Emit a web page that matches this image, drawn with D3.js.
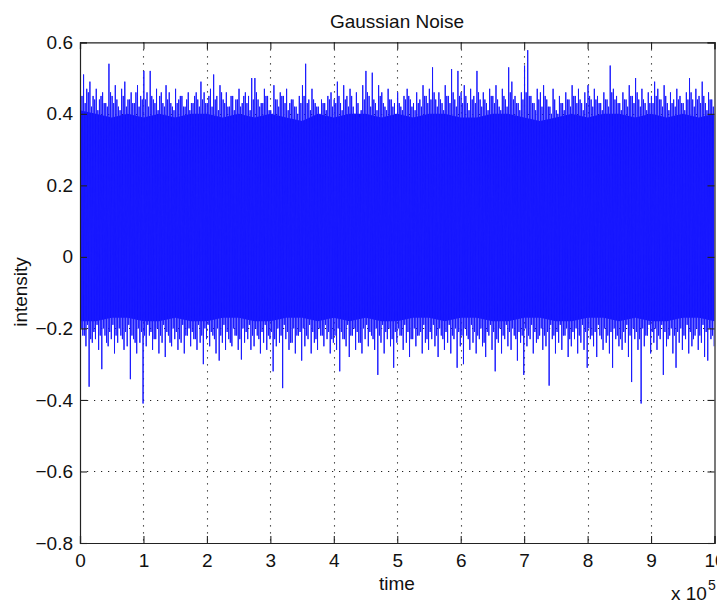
<!DOCTYPE html>
<html><head><meta charset="utf-8">
<script src="https://cdn.jsdelivr.net/npm/d3@7"></script>
<style>
html,body{margin:0;padding:0;background:#fff;}
svg{display:block;}
text{font-family:"Liberation Sans",Arial,Helvetica,sans-serif;fill:#111;}
</style></head><body>
<svg id="chart" width="717" height="603"></svg>
<script>
// ---- data ----
const titleText = "Gaussian Noise";
const xLabelText = "time";
const yLabelText = "intensity";
const xTicks = [0,1,2,3,4,5,6,7,8,9,10];          // ×10^5
const yTicks = [-0.8,-0.6,-0.4,-0.2,0,0.2,0.4,0.6];
const xDomain = [0,10];
const yDomain = [-0.8,0.6];

// tall upper spike tips (200 samples, evenly spaced in time)
const peaks = [
0.50,0.51,0.47,0.49,0.45,0.47,0.44,0.46,0.43,0.54,
0.45,0.48,0.42,0.47,0.49,0.44,0.46,0.43,0.48,0.45,
0.52,0.46,0.52,0.44,0.47,0.45,0.43,0.48,0.46,0.42,
0.47,0.44,0.45,0.42,0.46,0.43,0.45,0.44,0.49,0.46,
0.43,0.47,0.51,0.45,0.48,0.44,0.46,0.42,0.45,0.44,
0.47,0.43,0.46,0.45,0.50,0.50,0.44,0.43,0.47,0.45,
0.41,0.48,0.44,0.46,0.45,0.47,0.43,0.44,0.42,0.45,
0.48,0.54,0.44,0.47,0.43,0.42,0.44,0.43,0.45,0.46,
0.44,0.49,0.43,0.48,0.45,0.47,0.42,0.46,0.39,0.48,
0.52,0.45,0.515,0.43,0.48,0.46,0.42,0.47,0.44,0.43,
0.46,0.42,0.45,0.47,0.44,0.43,0.46,0.44,0.48,0.45,
0.47,0.53,0.44,0.46,0.43,0.48,0.45,0.525,0.44,0.52,
0.46,0.48,0.43,0.47,0.45,0.52,0.44,0.46,0.43,0.47,
0.45,0.48,0.42,0.47,0.44,0.53,0.49,0.45,0.43,0.46,
0.535,0.578,0.45,0.43,0.47,0.46,0.48,0.44,0.42,0.47,
0.41,0.45,0.43,0.46,0.44,0.48,0.45,0.47,0.43,0.46,
0.48,0.44,0.47,0.45,0.43,0.46,0.44,0.535,0.47,0.45,
0.43,0.46,0.44,0.48,0.45,0.50,0.44,0.47,0.43,0.46,
0.45,0.49,0.47,0.44,0.48,0.43,0.46,0.44,0.47,0.45,
0.43,0.46,0.50,0.44,0.47,0.45,0.49,0.43,0.46,0.44
];
// deep lower spike tips (200 samples)
const troughs = [
-0.22,-0.25,-0.363,-0.24,-0.23,-0.26,-0.314,-0.22,-0.25,-0.23,
-0.27,-0.24,-0.22,-0.26,-0.25,-0.342,-0.23,-0.27,-0.24,-0.41,
-0.25,-0.22,-0.26,-0.23,-0.27,-0.24,-0.28,-0.22,-0.25,-0.23,
-0.26,-0.24,-0.27,-0.22,-0.25,-0.23,-0.26,-0.24,-0.30,-0.23,
-0.25,-0.22,-0.27,-0.29,-0.24,-0.26,-0.23,-0.25,-0.22,-0.26,
-0.287,-0.24,-0.23,-0.26,-0.25,-0.22,-0.27,-0.24,-0.26,-0.23,
-0.32,-0.25,-0.24,-0.367,-0.23,-0.26,-0.24,-0.27,-0.22,-0.29,
-0.25,-0.23,-0.27,-0.24,-0.26,-0.22,-0.25,-0.23,-0.27,-0.24,
-0.26,-0.32,-0.23,-0.25,-0.28,-0.22,-0.26,-0.24,-0.27,-0.23,
-0.25,-0.22,-0.26,-0.33,-0.24,-0.27,-0.23,-0.25,-0.31,-0.24,
-0.22,-0.26,-0.24,-0.28,-0.23,-0.25,-0.22,-0.27,-0.24,-0.26,
-0.23,-0.25,-0.28,-0.22,-0.26,-0.24,-0.27,-0.23,-0.31,-0.25,
-0.30,-0.22,-0.26,-0.24,-0.27,-0.23,-0.25,-0.28,-0.22,-0.26,
-0.32,-0.24,-0.27,-0.23,-0.25,-0.26,-0.22,-0.29,-0.24,-0.33,
-0.25,-0.23,-0.27,-0.24,-0.22,-0.26,-0.25,-0.36,-0.23,-0.27,
-0.24,-0.26,-0.22,-0.28,-0.25,-0.23,-0.27,-0.24,-0.26,-0.31,
-0.23,-0.25,-0.28,-0.22,-0.26,-0.24,-0.27,-0.31,-0.23,-0.25,
-0.26,-0.24,-0.28,-0.35,-0.23,-0.26,-0.41,-0.25,-0.22,-0.27,
-0.24,-0.26,-0.23,-0.33,-0.25,-0.22,-0.27,-0.31,-0.24,-0.26,
-0.23,-0.27,-0.25,-0.22,-0.26,-0.24,-0.28,-0.29,-0.23,-0.25
];
// shorter upper spikes between the tall ones (200 samples)
const innerPeaks = [
0.45,0.43,0.46,0.42,0.44,0.41,0.45,0.43,0.42,0.46,
0.43,0.44,0.41,0.45,0.42,0.44,0.43,0.46,0.42,0.44,
0.44,0.42,0.45,0.43,0.41,0.46,0.42,0.44,0.43,0.41,
0.43,0.45,0.42,0.44,0.41,0.43,0.46,0.42,0.44,0.43,
0.45,0.42,0.44,0.41,0.46,0.43,0.42,0.45,0.41,0.44,
0.42,0.45,0.43,0.41,0.44,0.46,0.42,0.43,0.45,0.41,
0.40,0.44,0.42,0.45,0.43,0.41,0.44,0.42,0.40,0.43,
0.45,0.43,0.41,0.44,0.42,0.40,0.43,0.41,0.44,0.42,
0.43,0.45,0.41,0.44,0.42,0.45,0.40,0.43,0.41,0.44,
0.46,0.42,0.44,0.41,0.45,0.43,0.41,0.44,0.42,0.40,
0.43,0.41,0.44,0.45,0.42,0.41,0.43,0.42,0.45,0.43,
0.44,0.46,0.42,0.44,0.41,0.45,0.43,0.46,0.42,0.45,
0.43,0.45,0.41,0.44,0.43,0.46,0.42,0.44,0.41,0.45,
0.43,0.44,0.41,0.45,0.42,0.46,0.44,0.43,0.41,0.44,
0.46,0.45,0.43,0.41,0.44,0.42,0.45,0.42,0.40,0.44,
0.40,0.43,0.41,0.44,0.42,0.45,0.43,0.44,0.41,0.43,
0.45,0.42,0.44,0.43,0.41,0.44,0.42,0.46,0.44,0.43,
0.41,0.44,0.42,0.45,0.43,0.46,0.42,0.44,0.41,0.43,
0.43,0.45,0.44,0.42,0.45,0.41,0.43,0.42,0.44,0.43,
0.41,0.44,0.46,0.42,0.44,0.43,0.45,0.41,0.44,0.42
];
// shorter lower spikes between the deep ones (200 samples)
const innerTroughs = [
-0.20,-0.22,-0.19,-0.23,-0.21,-0.19,-0.22,-0.20,-0.24,-0.21,
-0.19,-0.22,-0.20,-0.23,-0.21,-0.19,-0.22,-0.24,-0.20,-0.21,
-0.22,-0.19,-0.21,-0.23,-0.20,-0.22,-0.19,-0.21,-0.24,-0.20,
-0.21,-0.23,-0.19,-0.22,-0.20,-0.21,-0.23,-0.19,-0.22,-0.20,
-0.19,-0.21,-0.23,-0.20,-0.22,-0.19,-0.21,-0.24,-0.20,-0.22,
-0.23,-0.20,-0.21,-0.19,-0.22,-0.20,-0.23,-0.21,-0.19,-0.22,
-0.21,-0.23,-0.20,-0.22,-0.19,-0.21,-0.24,-0.20,-0.22,-0.21,
-0.20,-0.22,-0.19,-0.21,-0.23,-0.20,-0.22,-0.19,-0.21,-0.23,
-0.22,-0.20,-0.21,-0.23,-0.19,-0.22,-0.20,-0.21,-0.24,-0.20,
-0.19,-0.21,-0.23,-0.20,-0.22,-0.19,-0.21,-0.20,-0.23,-0.21,
-0.20,-0.22,-0.19,-0.21,-0.23,-0.20,-0.22,-0.21,-0.19,-0.23,
-0.21,-0.19,-0.22,-0.20,-0.23,-0.21,-0.19,-0.22,-0.20,-0.21,
-0.22,-0.20,-0.23,-0.19,-0.21,-0.22,-0.20,-0.24,-0.21,-0.19,
-0.21,-0.23,-0.20,-0.22,-0.19,-0.21,-0.20,-0.23,-0.21,-0.22,
-0.20,-0.22,-0.19,-0.21,-0.23,-0.20,-0.22,-0.21,-0.19,-0.22,
-0.21,-0.19,-0.22,-0.20,-0.23,-0.21,-0.20,-0.22,-0.19,-0.21,
-0.20,-0.22,-0.21,-0.19,-0.23,-0.20,-0.22,-0.21,-0.20,-0.22,
-0.23,-0.21,-0.19,-0.22,-0.20,-0.21,-0.23,-0.20,-0.22,-0.19,
-0.21,-0.20,-0.22,-0.19,-0.21,-0.23,-0.20,-0.22,-0.21,-0.20,
-0.22,-0.19,-0.21,-0.23,-0.20,-0.22,-0.19,-0.21,-0.20,-0.22
];
// solid core of the band (41 samples, every 0.25×10^5)
const coreTop = [0.41,0.40,0.39,0.40,0.39,0.40,0.39,0.40,0.40,0.39,0.40,0.39,0.40,0.39,0.38,0.40,0.39,0.40,0.40,0.39,0.40,0.39,0.40,0.40,0.39,0.39,0.40,0.40,0.39,0.38,0.39,0.40,0.39,0.40,0.40,0.39,0.40,0.39,0.40,0.39,0.40];
const coreBottom = [-0.18,-0.18,-0.17,-0.17,-0.18,-0.18,-0.17,-0.18,-0.18,-0.17,-0.17,-0.18,-0.18,-0.17,-0.17,-0.18,-0.17,-0.18,-0.17,-0.18,-0.18,-0.17,-0.17,-0.18,-0.17,-0.17,-0.18,-0.18,-0.17,-0.17,-0.18,-0.18,-0.17,-0.17,-0.18,-0.17,-0.18,-0.18,-0.17,-0.17,-0.18];

// ---- layout ----
const L = 80, R = 714.5, T = 42.3, B = 543;
const svg = d3.select("#chart");
const x = d3.scaleLinear().domain(xDomain).range([L, R]);
const y = d3.scaleLinear().domain(yDomain).range([B, T]);

svg.append("rect").attr("width",717).attr("height",603).attr("fill","#fff");
svg.append("rect").attr("x",L).attr("y",T).attr("width",R-L).attr("height",B-T).attr("fill","#fff");

svg.append("defs").append("clipPath").attr("id","clip")
  .append("rect").attr("x",L).attr("y",T).attr("width",R-L).attr("height",B-T);

// grid
const grid = svg.append("g").attr("stroke","#222").attr("stroke-width",1.1).attr("stroke-dasharray","1.2,5.8");
grid.selectAll("line.gx").data(xTicks.slice(1,-1)).join("line")
  .attr("x1",d=>Math.round(x(d))+0.5).attr("x2",d=>Math.round(x(d))+0.5).attr("y1",T).attr("y2",B);
grid.selectAll("line.gy").data(yTicks.slice(1,-1)).join("line")
  .attr("y1",d=>Math.round(y(d))+0.5).attr("y2",d=>Math.round(y(d))+0.5).attr("x1",L).attr("x2",R);

// data: zig-zag through all spike tips, in time order
const n = peaks.length;
const dt = (xDomain[1]-xDomain[0]) / n;
const signal = [];
for (let i = 0; i < n; i++) {
  signal.push({t: (i+0.125)*dt, v: peaks[i]});
  signal.push({t: (i+0.375)*dt, v: innerTroughs[i]});
  signal.push({t: (i+0.625)*dt, v: innerPeaks[i]});
  signal.push({t: (i+0.875)*dt, v: troughs[i]});
}
const coreStep = (xDomain[1]-xDomain[0])/(coreTop.length-1);
const core = coreTop.map((v,i)=>({t:i*coreStep, top:v, bot:coreBottom[i]}));

const plot = svg.append("g").attr("clip-path","url(#clip)");
plot.append("path").datum(core)
  .attr("fill","#0c0cff")
  .attr("d", d3.area().x(d=>x(d.t)).y0(d=>y(d.bot)).y1(d=>y(d.top)));
plot.append("path").datum(signal)
  .attr("fill","none").attr("stroke","#1a1aff").attr("stroke-width",1)
  .attr("d", d3.line().x(d=>x(d.t)).y(d=>y(d.v)));

// axes box + ticks
const fs = 19;
const axB = svg.append("g").attr("transform",`translate(0,${B})`)
  .call(d3.axisBottom(x).tickValues(xTicks).tickSize(-7).tickPadding(11).tickFormat(d3.format("d")));
const axT = svg.append("g").attr("transform",`translate(0,${T})`)
  .call(d3.axisTop(x).tickValues(xTicks).tickSize(-7).tickFormat(""));
const axL = svg.append("g").attr("transform",`translate(${L},0)`)
  .call(d3.axisLeft(y).tickValues(yTicks).tickSize(-7).tickPadding(7).tickFormat(d=>d===0?"0":d3.format(".1f")(d)));
const axR = svg.append("g").attr("transform",`translate(${R},0)`)
  .call(d3.axisRight(y).tickValues(yTicks).tickSize(-7).tickFormat(""));
[axB,axT,axL,axR].forEach(a=>{
  a.select(".domain").attr("stroke","#222").attr("stroke-width",1.2);
  a.selectAll(".tick line").attr("stroke","#222").attr("stroke-width",1.1);
  a.selectAll("text").attr("font-size",fs).attr("font-family",'"Liberation Sans",Arial,sans-serif').attr("fill","#111");
});
axL.selectAll(".tick text").attr("x",-7);

// titles
svg.append("text").attr("x",397).attr("y",27.5).attr("text-anchor","middle").attr("font-size",fs).text(titleText);
svg.append("text").attr("x",397).attr("y",590).attr("text-anchor","middle").attr("font-size",fs).text(xLabelText);
svg.append("text").attr("transform","translate(27,292) rotate(-90)").attr("text-anchor","middle").attr("font-size",fs).text(yLabelText);
const ex = svg.append("text").attr("x",671).attr("y",600).attr("font-size",fs);
ex.append("tspan").text("x 10");
ex.append("tspan").attr("font-size",14).attr("dy",-10).attr("dx",1).text("5");
</script>
</body></html>
